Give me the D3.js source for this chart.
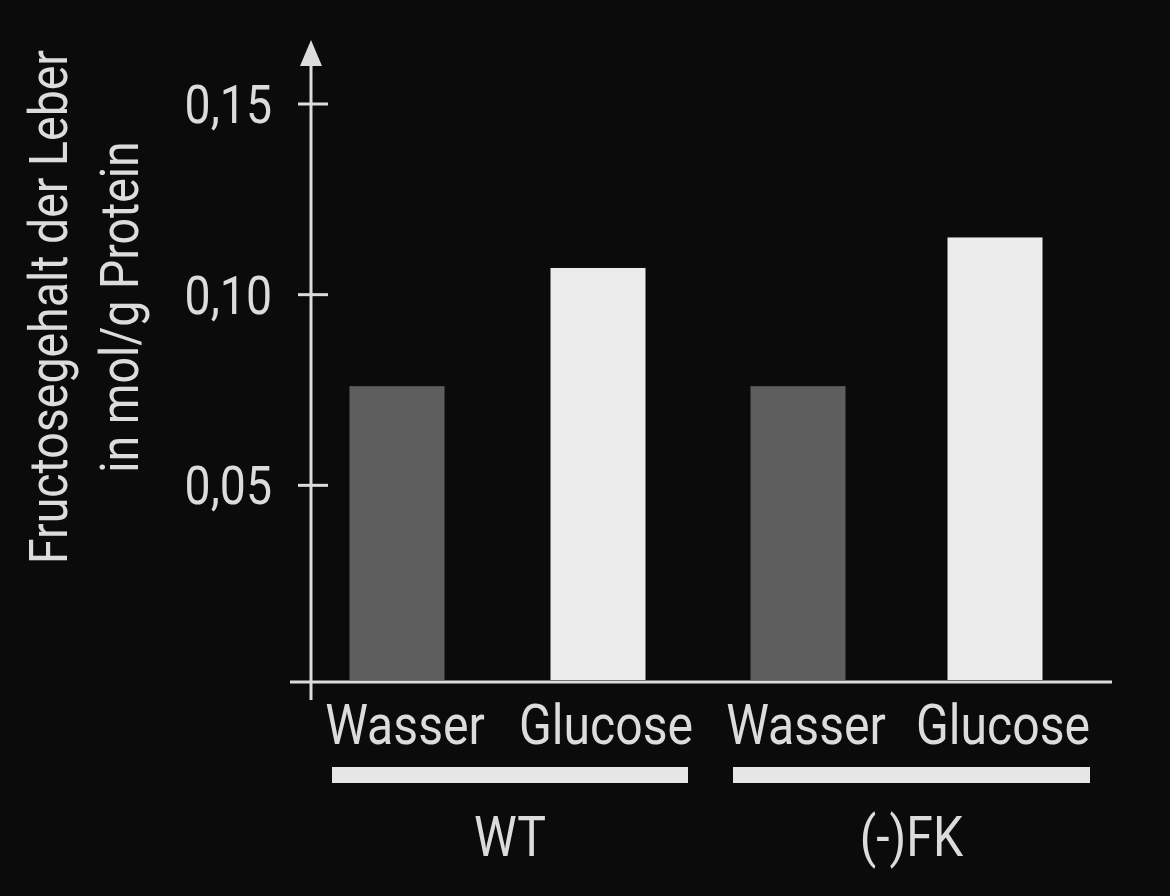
<!DOCTYPE html>
<html><head><meta charset="utf-8">
<script src="https://cdn.jsdelivr.net/npm/d3@7"></script>
<style>body{margin:0;background:#0b0b0b}svg{display:block}</style>
</head><body>
<script>
const categories = ["Wasser","Glucose","Wasser","Glucose"];
const groups = ["WT","(-)FK"];
const values = [0.076, 0.107, 0.076, 0.115];
const tickValues = [0.05, 0.10, 0.15];
const tickLabels = ["0,05","0,10","0,15"];
const barColors = ["#5e5e5e","#ececec","#5e5e5e","#ececec"];

const W=1170,H=896;
const svg=d3.select("body").append("svg").attr("width",W).attr("height",H);
svg.append("rect").attr("width",W).attr("height",H).attr("fill","#0b0b0b");
const y=d3.scaleLinear().domain([0,0.15]).range([676,104]);
const centers=[397,598,798,995];
const bw=95;
const col="#dcdcdc";
const font="Roboto, 'Noto Sans', sans-serif";
function cond(g,cx,cy,s=0.86){return g.attr("transform",`translate(${cx},${cy}) scale(${s},1)`);}

svg.selectAll(".bar").data(values).join("rect")
 .attr("x",(d,i)=>centers[i]-bw/2).attr("width",bw)
 .attr("y",d=>y(d)).attr("height",d=>680-y(d)).attr("fill",(d,i)=>barColors[i]);

svg.append("line").attr("x1",290).attr("x2",1112).attr("y1",682).attr("y2",682).attr("stroke",col).attr("stroke-width",3);
svg.append("line").attr("x1",311).attr("x2",311).attr("y1",700).attr("y2",60).attr("stroke",col).attr("stroke-width",3);
svg.append("path").attr("d","M311,40 L300,66 L322,66 Z").attr("fill",col);
tickValues.forEach((v,i)=>{
 svg.append("line").attr("x1",298).attr("x2",328).attr("y1",y(v)).attr("y2",y(v)).attr("stroke",col).attr("stroke-width",3);
 cond(svg.append("g"),272,y(v)+19).append("text").attr("text-anchor","end").attr("font-family",font).attr("font-size",54).attr("fill",col).text(tickLabels[i]);
});
categories.forEach((c,i)=>{
 cond(svg.append("g"),centers[i]+8,744).append("text").attr("text-anchor","middle").attr("font-family",font).attr("font-size",56).attr("fill",col).text(c);
});
[[332,688],[733,1090]].forEach((r,i)=>{
 svg.append("rect").attr("x",r[0]).attr("y",767).attr("width",r[1]-r[0]).attr("height",16).attr("fill","#e6e6e6");
 cond(svg.append("g"),(r[0]+r[1])/2,856).append("text").attr("text-anchor","middle").attr("font-family",font).attr("font-size",56).attr("fill",col).text(groups[i]);
});
const t=svg.append("g").attr("transform","translate(0,307) rotate(-90)");
const tt=t.append("g").attr("transform","scale(0.86,1)");
tt.append("text").attr("x",0).attr("y",67).attr("text-anchor","middle").attr("font-family",font).attr("font-size",54).attr("fill",col).text("Fructosegehalt der Leber");
tt.append("text").attr("x",0).attr("y",138).attr("text-anchor","middle").attr("font-family",font).attr("font-size",54).attr("fill",col).text("in mol/g Protein");
</script>
</body></html>
